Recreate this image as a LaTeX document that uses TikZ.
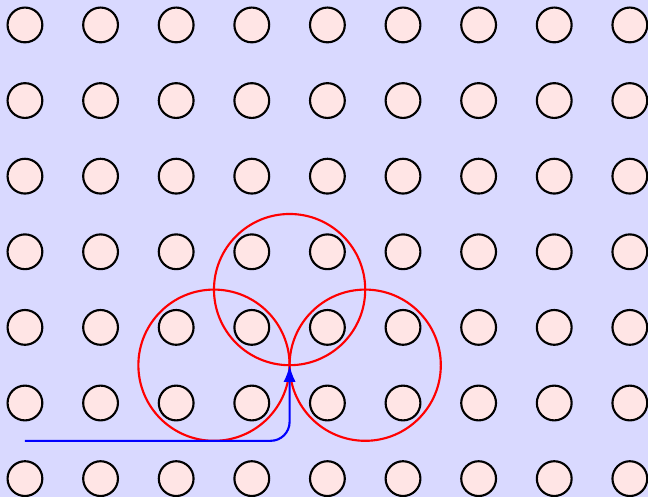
\documentclass[tikz,border=0pt]{standalone}
\usepackage{tikz}
\usetikzlibrary{arrows.meta, positioning}

\begin{document}
\begin{tikzpicture}[dot/.style={circle, draw, thick, fill=red!10, minimum size=0.46cm, inner sep=0pt},
     ring/.style={red, thick},path/.style={blue, thick, rounded corners=0.25cm, -{Latex[length=2.2mm,width=1.6mm]}}]
     \fill[blue!15] (-0.33,-0.243) rectangle (8.24,6.33);\useasboundingbox (-0.33,-0.243) rectangle (8.24,6.33);
     \foreach \i in {0,...,8}{\foreach \j in {0,...,6}{\node (d\i\j) [dot] at (\i,\j) {};}}
     \draw [ring] (3.5,2.5) circle (1);\draw [ring] (2.5,1.5) circle (1);\draw [ring] (4.5,1.5) circle (1);
     \coordinate (start) at (0,0.5);\coordinate (turn) at (3.5,0.5);\coordinate (tip) at (3.5,1.5);
     \draw [path] (start) -- (turn) -- (tip);
\end{tikzpicture}
\end{document}
